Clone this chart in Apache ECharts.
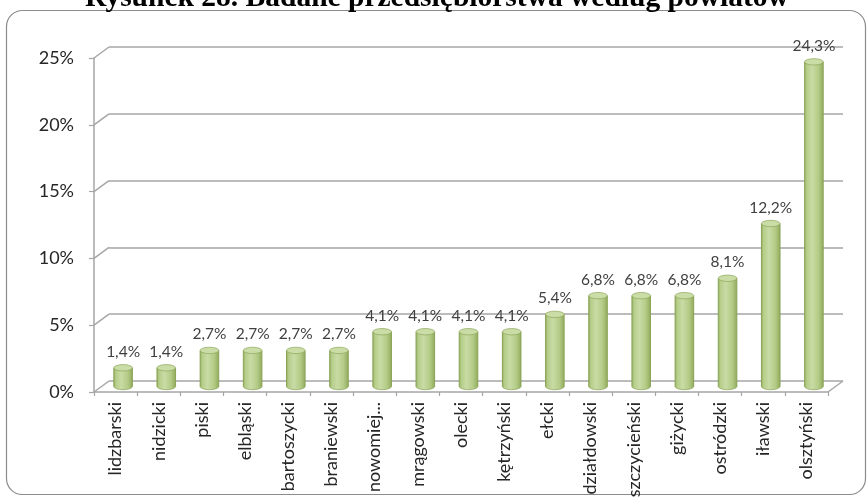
<!DOCTYPE html>
<html>
<head>
<meta charset="utf-8">
<script src="https://cdn.jsdelivr.net/npm/echarts@6/dist/echarts.min.js"></script>
<style>
  html, body { margin: 0; padding: 0; background: #ffffff; }
  #chart { width: 868px; height: 498px; }
</style>
</head>
<body>
<div id="chart"></div>
<script>
// Surveyed enterprises by county (share of all, %)
const counties = ['lidzbarski', 'nidzicki', 'piski', 'elbląski', 'bartoszycki', 'braniewski',
  'nowomiej...', 'mrągowski', 'olecki', 'kętrzyński', 'ełcki', 'działdowski',
  'szczycieński', 'giżycki', 'ostródzki', 'iławski', 'olsztyński'];
const shares = [1.4, 1.4, 2.7, 2.7, 2.7, 2.7, 4.1, 4.1, 4.1, 4.1, 5.4, 6.8, 6.8, 6.8, 8.1, 12.2, 24.3];
const yTicks = [0, 5, 10, 15, 20, 25];

const titleText = 'Rysunek 28. Badane przedsiębiorstwa według powiatów';

// depth of the pseudo-3D box: back wall is offset right/up from the front axes
const DX = 15, DY = 11;
const GRID_COLOR = '#a6a6a6';
const FONT = 'Lato, "Liberation Sans", sans-serif';

const fmtPct = v => v.toFixed(1).replace('.', ',') + '%';

const chart = echarts.init(document.getElementById('chart'), null, { renderer: 'canvas' });

chart.setOption({
  animation: false,
  backgroundColor: '#ffffff',
  graphic: [
    {
      type: 'rect', z: 0, silent: true,
      shape: { x: 6.5, y: 10.5, width: 859, height: 484, r: 16 },
      style: { fill: 'none', stroke: '#8c8c8c', lineWidth: 1.2 }
    },
    {
      type: 'text', z: 10, silent: true,
      x: 437, y: -2,
      style: {
        text: titleText, fill: '#000000',
        font: 'bold 29.5px "Liberation Serif", "Times New Roman", serif',
        align: 'center', verticalAlign: 'middle'
      }
    }
  ],
  grid: [
    { left: 94, top: 58, right: 40, bottom: 106, outerBoundsMode: 'none', containLabel: false },   // front plane
    { left: 109, top: 47, right: 25, bottom: 117, outerBoundsMode: 'none', containLabel: false }    // back wall
  ],
  xAxis: [
    {
      type: 'category', gridIndex: 0, data: counties,
      axisLine: { lineStyle: { color: GRID_COLOR, width: 1.5 } },
      axisTick: { show: true, length: 4, lineStyle: { color: GRID_COLOR, width: 1.2 } },
      axisLabel: {
        rotate: 90, interval: 0, margin: 10,
        color: '#262626', fontFamily: FONT, fontSize: 18
      },
      splitLine: { show: false }
    },
    { type: 'category', gridIndex: 1, data: counties, show: false }
  ],
  yAxis: [
    {
      type: 'value', gridIndex: 0, min: 0, max: 25, interval: 5,
      axisLine: { show: true, lineStyle: { color: GRID_COLOR, width: 1.5 } },
      axisTick: { show: true, length: 5, lineStyle: { color: GRID_COLOR, width: 1.2 } },
      axisLabel: {
        margin: 20, color: '#262626', fontFamily: FONT, fontSize: 18,
        formatter: v => v + '%'
      },
      splitLine: { show: false }
    },
    {
      type: 'value', gridIndex: 1, min: 0, max: 25, interval: 5,
      axisLine: { show: false }, axisTick: { show: false }, axisLabel: { show: false },
      splitLine: { show: true, lineStyle: { color: GRID_COLOR, width: 1.5 } }
    }
  ],
  series: [
    {
      // slanted edges joining the front axes to the back-wall gridlines
      name: 'depth', type: 'custom', xAxisIndex: 0, yAxisIndex: 0, silent: true, z: 1,
      data: yTicks.map(v => [0, v]),
      renderItem: (params, api) => {
        const cs = params.coordSys;
        const y = api.coord([0, api.value(1)])[1];
        const style = { stroke: GRID_COLOR, lineWidth: 1.5 };
        const children = [{
          type: 'line', shape: { x1: cs.x, y1: y, x2: cs.x + DX, y2: y - DY }, style
        }];
        if (api.value(1) === 0) {
          const xr = cs.x + cs.width;
          children.push({ type: 'line', shape: { x1: xr, y1: y, x2: xr + DX, y2: y - DY }, style });
        }
        return { type: 'group', children };
      }
    },
    {
      // cylinder columns standing halfway into the box depth
      name: 'udział', type: 'custom', xAxisIndex: 0, yAxisIndex: 0, z: 5,
      data: shares.map((v, i) => [i, v]),
      renderItem: (params, api) => {
        const i = api.value(0), v = api.value(1);
        const top = api.coord([i, v]);
        const base = api.coord([i, 0]);
        const cx = top[0] + DX / 2;
        const yTop = top[1] - DY / 2;
        const yBase = base[1] - DY / 2;
        const w = api.size([1, 0])[0] * 0.43;
        const rx = w / 2, ry = 3.2;
        const body = new echarts.graphic.LinearGradient(0, 0, 1, 0, [
          { offset: 0, color: '#98b266' },
          { offset: 0.12, color: '#b6ce8a' },
          { offset: 0.4, color: '#c8dba5' },
          { offset: 0.75, color: '#b3cb86' },
          { offset: 1, color: '#92ac5e' }
        ]);
        const edge = '#8aa356';
        return {
          type: 'group',
          children: [
            {
              type: 'circle', x: cx, y: yBase, scaleY: ry / rx,
              shape: { cx: 0, cy: 0, r: rx },
              style: { fill: body, stroke: edge, lineWidth: 1 }
            },
            {
              type: 'rect',
              shape: { x: cx - rx, y: yTop, width: w, height: yBase - yTop },
              style: { fill: body }
            },
            {
              type: 'line', shape: { x1: cx - rx, y1: yTop, x2: cx - rx, y2: yBase },
              style: { stroke: edge, lineWidth: 1 }
            },
            {
              type: 'line', shape: { x1: cx + rx, y1: yTop, x2: cx + rx, y2: yBase },
              style: { stroke: edge, lineWidth: 1 }
            },
            {
              type: 'circle', x: cx, y: yTop, scaleY: ry / rx,
              shape: { cx: 0, cy: 0, r: rx },
              style: { fill: '#cadda7', stroke: edge, lineWidth: 1 }
            },
            {
              type: 'text', x: cx, y: yTop - 16,
              style: {
                text: fmtPct(v), fill: '#404040',
                font: '15.5px ' + FONT, align: 'center', verticalAlign: 'middle'
              }
            }
          ]
        };
      }
    }
  ]
});
</script>
</body>
</html>
